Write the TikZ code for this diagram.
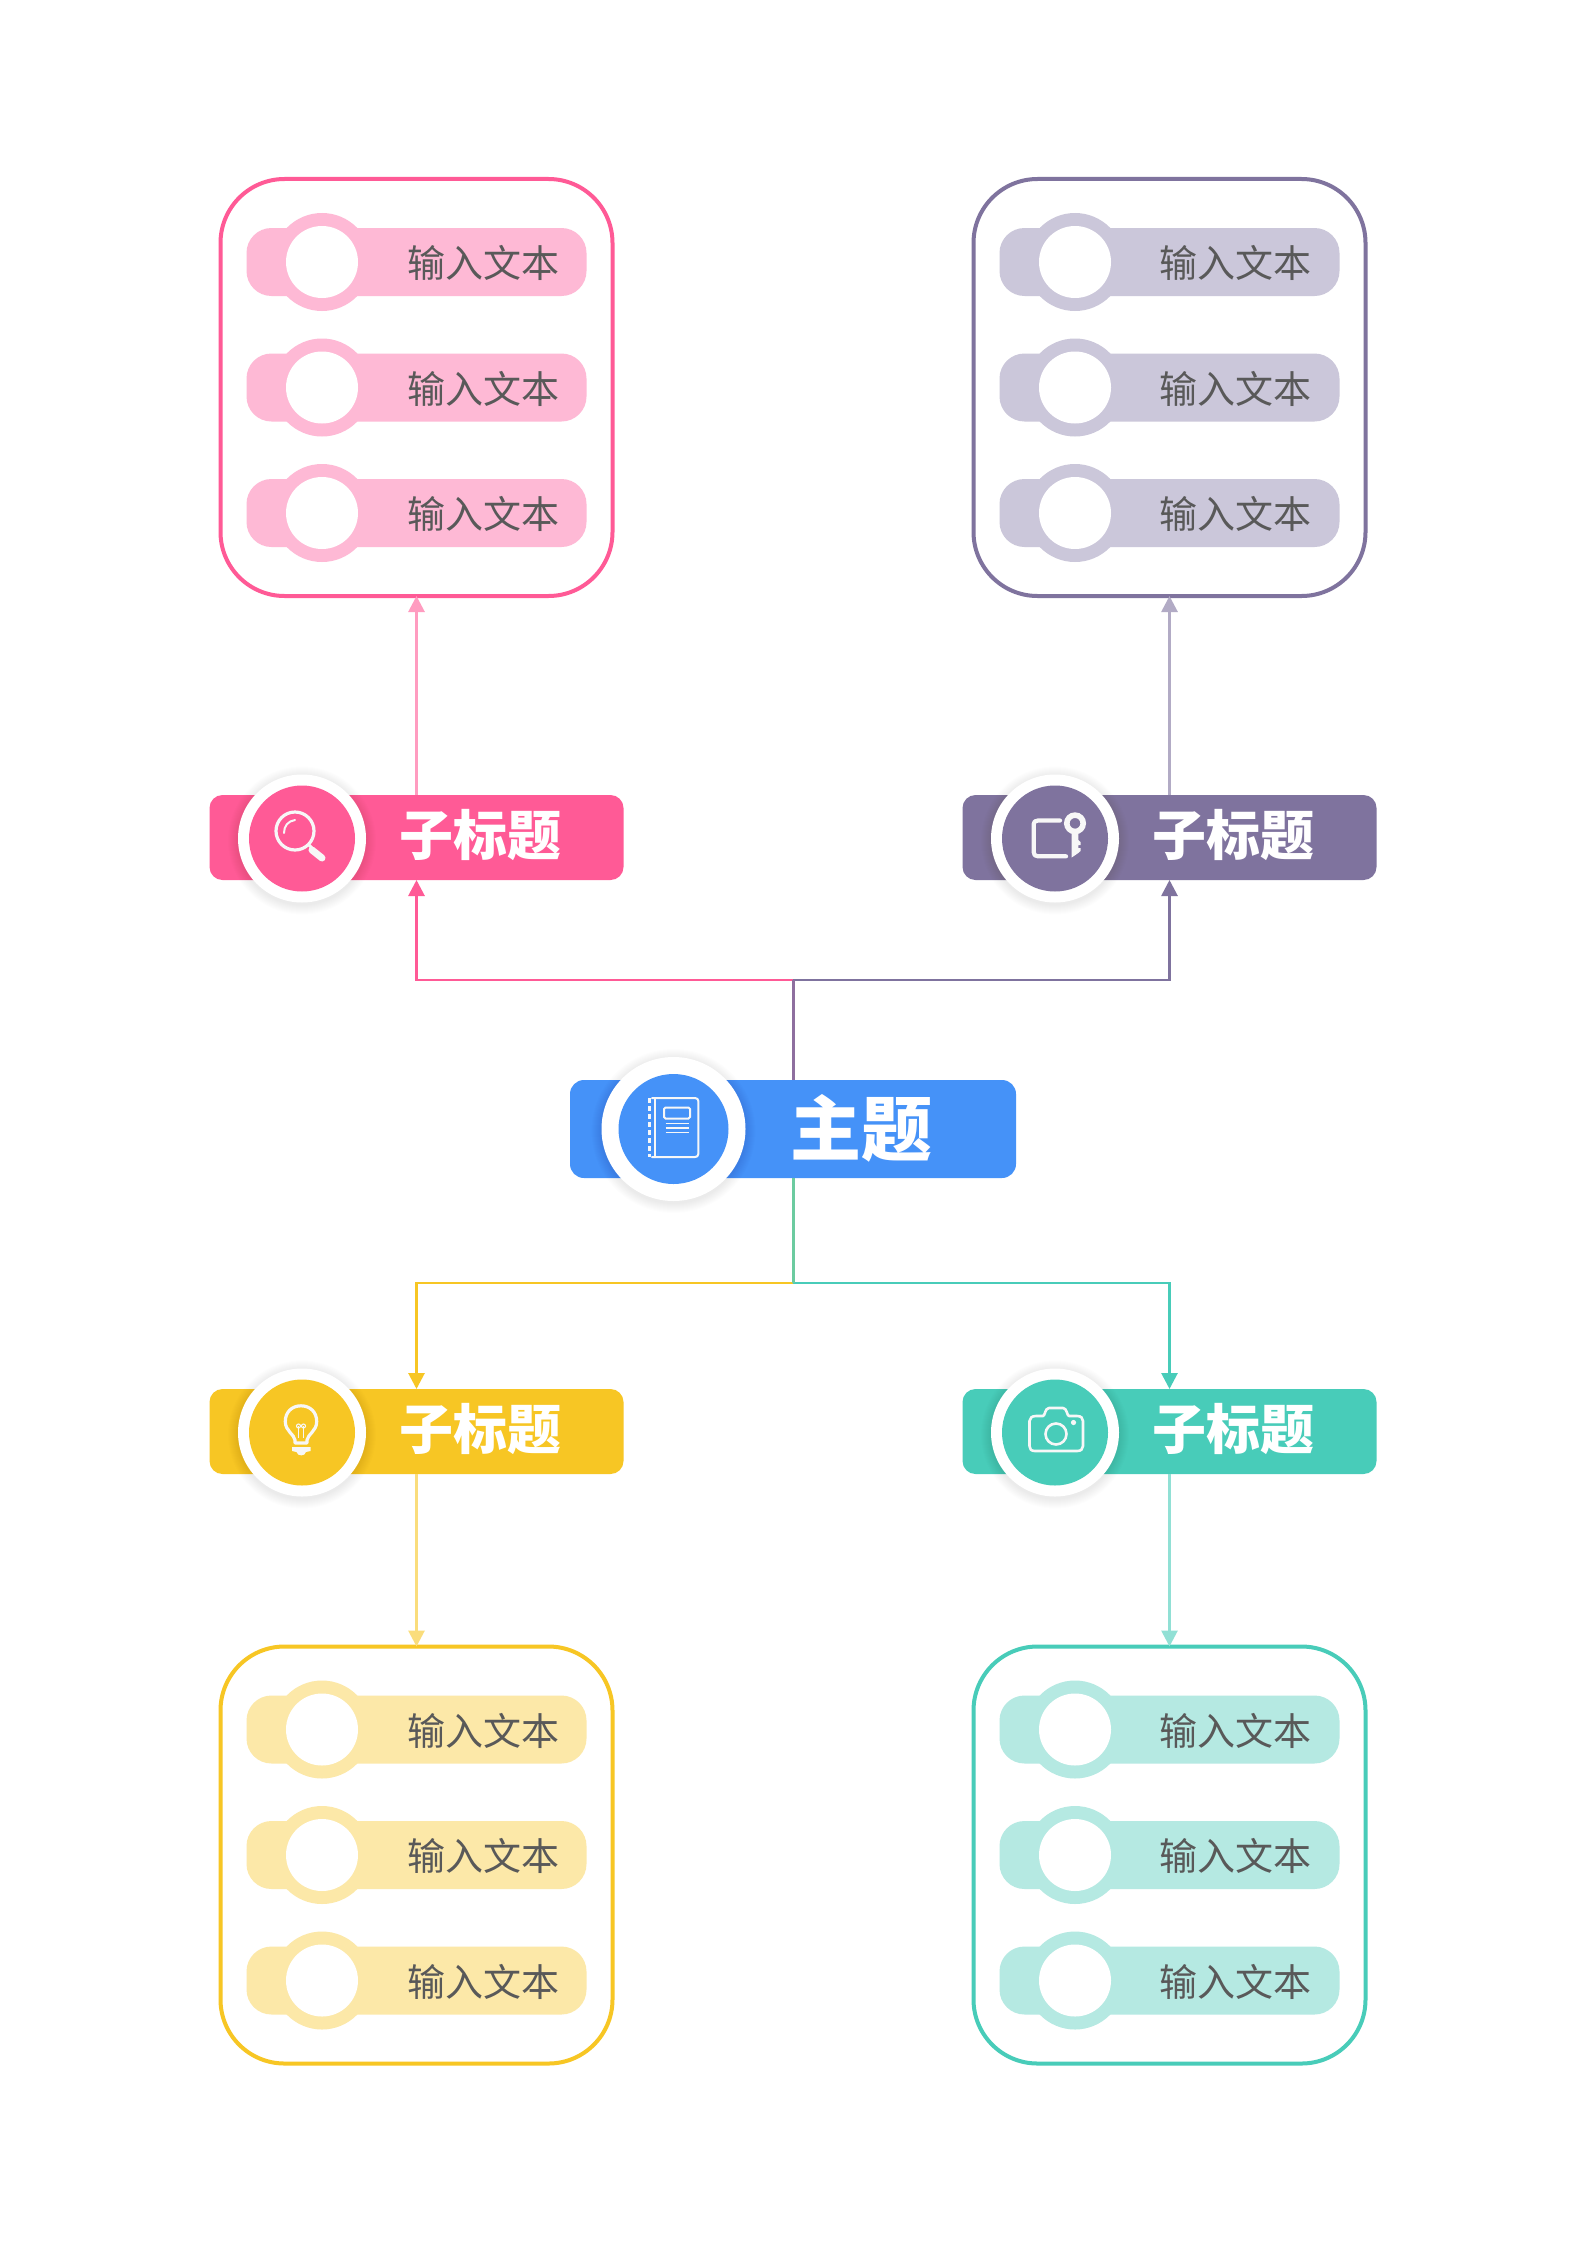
\documentclass[tikz,border=0pt]{standalone}
\usepackage{fontspec}
\setmainfont{Noto Sans CJK SC}
\usetikzlibrary{arrows.meta}
\definecolor{cpink}{HTML}{FF5A96}
\definecolor{cpurple}{HTML}{7F739E}
\definecolor{cblue}{HTML}{4592F8}
\definecolor{cyellow}{HTML}{F7C624}
\definecolor{cteal}{HTML}{48CCB9}
\definecolor{ppink}{HTML}{FEB9D5}
\definecolor{ppurple}{HTML}{CBC7DA}
\definecolor{pyellow}{HTML}{FCE8A8}
\definecolor{pteal}{HTML}{B5E9E2}
\definecolor{lpink}{HTML}{FF9CC0}
\definecolor{lpurple}{HTML}{B2ABC5}
\definecolor{lyellow}{HTML}{FADD7C}
\definecolor{lteal}{HTML}{91E0D5}
\definecolor{mixtop}{HTML}{8E6F9F}
\definecolor{mixbot}{HTML}{6CCBA0}
\definecolor{ctext}{HTML}{595959}
\definecolor{icon}{HTML}{F7F7F7}
\tikzset{
  panelbox/.style={draw=#1,line width=4pt,fill=white,rounded corners=64pt,minimum width=392pt,minimum height=417pt,inner sep=0pt,outer sep=0pt},
  pillbox/.style={fill=#1,rounded corners=25pt,minimum width=340pt,minimum height=68pt,inner sep=0pt,outer sep=0pt},
  disc/.style={circle,fill=#1,inner sep=0pt,outer sep=0pt},
  barbox/.style={fill=#1,rounded corners=13pt,minimum width=414pt,minimum height=85pt,inner sep=0pt,outer sep=0pt},
  mainbox/.style={fill=#1,rounded corners=14pt,minimum width=446pt,minimum height=98pt,inner sep=0pt,outer sep=0pt},
  itemtext/.style={text=ctext,font=\fontsize{38}{38}\selectfont,inner sep=0pt},
  subtext/.style={text=white,font=\bfseries\fontsize{54}{54}\selectfont,inner sep=0pt},
  maintext/.style={text=white,font=\bfseries\fontsize{71}{71}\selectfont,inner sep=0pt},
  link/.style={draw=#1,line width=2.8pt,-{Triangle[width=16pt,length=16pt]}},
  trunk/.style={draw=#1,line width=3pt},
  iconline/.style={draw=icon,line width=#1,fill=none,line cap=round,line join=round},
}
\newcommand{\softshade}[3]{%
  \foreach \k in {1,...,10}{\fill[black,opacity=0.009] (#1,#2+2) circle [radius=#3+11-\k];}}
\newcommand{\itemrow}[6]{% name, x centre, y centre, colour, text, text shift
  \node[pillbox=#4] (#1) at (#2,#3) {};
  \node[disc=#4,minimum size=98pt] (#1o) at (#2-94.5,#3) {};
  \node[disc=white,minimum size=72pt] (#1i) at (#2-94.5,#3) {};
  \node[itemtext] (#1t) at (#2+#6,#3+1) {#5};
}
\newcommand{\panelgroup}[6]{% name, x, y, border, pale, text shift
  \node[panelbox=#4] (#1) at (#2,#3) {};
  \itemrow{#1a}{#2}{#3-125.5}{#5}{输入文本}{#6}
  \itemrow{#1b}{#2}{#3}{#5}{输入文本}{#6}
  \itemrow{#1c}{#2}{#3+125.5}{#5}{输入文本}{#6}
}
\newcommand{\subgroup}[4]{% name, x, y, colour
  \node[barbox=#4] (#1) at (#2,#3) {};
  \softshade{#2-114.5}{#3+1}{64}
  \node[disc=white,minimum size=128pt] (#1r) at (#2-114.5,#3+1) {};
  \node[disc=#4,minimum size=106pt] (#1c) at (#2-114.5,#3+1) {};
  \node[subtext] (#1t) at (#2+64,#3-3) {子标题};
}
\begin{document}
\begin{tikzpicture}[x=1pt,y=-1pt]
\useasboundingbox (0,0) rectangle (1587,2245);
\fill[white] (0,0) rectangle (1587,2245);
% panels
\panelgroup{pa}{416.5}{387.5}{cpink}{ppink}{67}
\panelgroup{pb}{1169.5}{387.5}{cpurple}{ppurple}{66}
\panelgroup{pc}{416.5}{1855}{cyellow}{pyellow}{67}
\panelgroup{pd}{1169.5}{1855}{cteal}{pteal}{66}
% bars
\subgroup{sa}{416.5}{837.5}{cpink}
\subgroup{sb}{1169.5}{837.5}{cpurple}
\subgroup{sc}{416.5}{1431.5}{cyellow}
\subgroup{sd}{1169.5}{1431.5}{cteal}
\node[mainbox=cblue] (m) at (793,1129) {};
\softshade{673.5}{1129}{72}
\node[disc=white,minimum size=144pt] (mr) at (673.5,1129) {};
\node[disc=cblue,minimum size=110pt] (mc) at (673.5,1129) {};
\node[maintext] (mt) at (861,1128) {主题};
% connectors
\coordinate (bustop) at (793,980);
\coordinate (busbot) at (793,1283);
\draw[link=lpink] (sa.north) -- (pa.south);
\draw[link=lpurple] (sb.north) -- (pb.south);
\draw[link=lyellow] (sc.south) -- (pc.north);
\draw[link=lteal] (sd.south) -- (pd.north);
\draw[link=cpink] (bustop) -| (sa.south);
\draw[link=cpurple] (bustop) -| (sb.south);
\draw[link=cyellow] (busbot) -| (sc.north);
\draw[link=cteal] (busbot) -| (sd.north);
\draw[trunk=mixtop] (m.north) -- (bustop);
\draw[trunk=mixbot] (m.south) -- (busbot);
% magnifier
\draw[iconline=3.2pt] (295,831) circle [radius=19];
\draw[iconline=2pt] (284,833) .. controls (284,826) and (288,821) .. (295,820);
\draw[iconline=3pt] (309,845) -- (313,849);
\draw[iconline=7pt] (312,850) -- (322,858);
% key and door
\draw[iconline=4.2pt] (1060,820.5) -- (1038,820.5) .. controls (1035,820.5) and (1033.7,822) .. (1033.7,824) -- (1033.7,852) .. controls (1033.7,855) and (1035,856.3) .. (1038,856.3) -- (1066,856.3);
\draw[draw=icon,line width=5.6pt] (1075,823.3) circle [radius=8.2];
\fill[icon] (1071.7,832) -- (1078.3,832) -- (1078.3,840) -- (1080.5,842) -- (1080.5,845) -- (1078.3,845) -- (1078.3,848) -- (1080.5,848) -- (1080.5,851) -- (1078.3,853) -- (1071.7,857.5) -- cycle;
% notebook
\draw[iconline=2pt] (652,1098) -- (695,1098) .. controls (697,1098) and (698.3,1099.3) .. (698.3,1101) -- (698.3,1154) .. controls (698.3,1156) and (697,1157) .. (695,1157) -- (652,1157);
\draw[iconline=2pt] (655,1098) -- (655,1157);
\draw[draw=icon,line width=2.2pt,dash pattern=on 5pt off 3pt] (649.5,1098) -- (649.5,1157);
\draw[draw=icon,line width=2pt,rounded corners=1.5pt] (664,1107.5) rectangle (690,1118.5);
\draw[draw=icon,line width=1.7pt] (665.5,1123.5) -- (689,1123.5);
\draw[draw=icon,line width=1.7pt] (665.5,1128) -- (689,1128);
\draw[draw=icon,line width=1.7pt] (665.5,1132.5) -- (689,1132.5);
% bulb
\draw[iconline=3.2pt] (295,1443) -- (295,1440) .. controls (294,1434) and (285.3,1431) .. (285.3,1421.5) .. controls (285.3,1412) and (292,1405.8) .. (301,1405.8) .. controls (310,1405.8) and (316.7,1412) .. (316.7,1421.5) .. controls (316.7,1431) and (308,1434) .. (307,1440) -- (307,1443) -- cycle;
\draw[draw=icon,line width=1.2pt] (298.5,1438) -- (298.5,1426) (303.5,1438) -- (303.5,1426);
\draw[draw=icon,line width=1.1pt] (298.5,1426) circle [radius=2] (303.5,1426) circle [radius=2];
\fill[icon] (292,1447) -- (310.5,1447) -- (310.5,1451) -- (306,1452) .. controls (305,1456.5) and (297.5,1456.5) .. (296.5,1452) -- (292,1451) -- cycle;
% camera
\draw[iconline=2.6pt] (1036,1416) -- (1043,1416) .. controls (1045,1416) and (1045,1408) .. (1049,1408) -- (1063,1408) .. controls (1067,1408) and (1067,1416) .. (1069,1416) -- (1077,1416) .. controls (1081,1416) and (1083,1418) .. (1083,1421) -- (1083,1446) .. controls (1083,1449) and (1081,1451) .. (1077,1451) -- (1035,1451) .. controls (1031,1451) and (1029.5,1449) .. (1029.5,1446) -- (1029.5,1421) .. controls (1029.5,1418) and (1032,1416) .. (1036,1416) -- cycle;
\draw[iconline=2.6pt] (1056,1434) circle [radius=10.5];
\fill[icon] (1073.5,1422.5) circle [radius=2.6];
\end{tikzpicture}
\end{document}
